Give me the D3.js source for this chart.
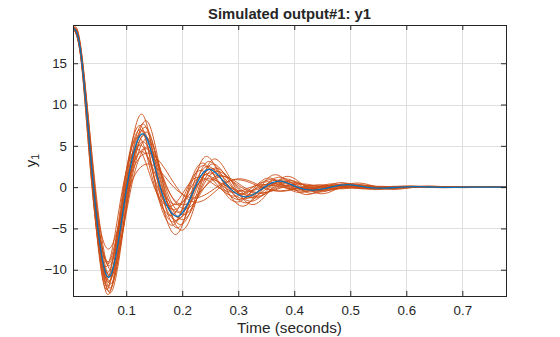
<!DOCTYPE html>
<html>
<head>
<meta charset="utf-8">
<script src="https://cdn.jsdelivr.net/npm/d3@7"></script>
<style>
  html, body { margin: 0; padding: 0; background: #ffffff; }
  svg { display: block; }
  text { font-family: "Liberation Sans", Arial, Helvetica, sans-serif; fill: #262626; }
</style>
</head>
<body>
<svg id="chart" width="560" height="337"></svg>
<script>
// Axis ranges and tick labels
const xDomain = [0.005, 0.778];
const yDomain = [-13.18, 19.63];
const xTicks = [0.1, 0.2, 0.3, 0.4, 0.5, 0.6, 0.7];
const yTicks = [-10, -5, 0, 5, 10, 15];

// Nominal simulated response y1: [time (s), value] at start, zero crossings and extrema
const nominalResponse = [
  [0.005, 19.25], [0.02, 15.7], [0.0416, 0], [0.0696, -10.9], [0.101, 0], [0.132, 6.4],
  [0.1607, 0], [0.1934, -3.5], [0.223, 0], [0.25, 2.14], [0.283, 0], [0.316, -1.16],
  [0.347, 0], [0.375, 0.72], [0.405, 0], [0.434, -0.36], [0.465, 0], [0.496, 0.3],
  [0.527, 0], [0.558, -0.12], [0.59, 0], [0.62, 0.05], [0.65, 0], [0.68, -0.02],
  [0.71, 0], [0.745, 0], [0.778, 0]
];

// Responses of the sampled (perturbed) models: [time (s), value]
const sampleRuns = [
  [[0.005,19.3],[0.02,15.5],[0.041,0],[0.068,-13.0],[0.099,0],[0.129,8.8],[0.158,0],[0.190,-5.7],[0.219,0],[0.245,3.7],[0.277,0],[0.310,-2.3],[0.340,0],[0.368,1.5],[0.397,0],[0.425,-0.9],[0.456,0],[0.486,0.55],[0.517,0],[0.547,-0.3],[0.578,0],[0.608,0.15],[0.637,0],[0.667,-0.07],[0.697,0],[0.737,0],[0.778,0]],
  [[0.005,19.2],[0.02,15.7],[0.042,0],[0.070,-12.6],[0.101,0],[0.132,7.6],[0.161,0],[0.193,-4.9],[0.223,0],[0.250,3.1],[0.283,0],[0.316,-1.9],[0.347,0],[0.375,1.2],[0.405,0],[0.434,-0.75],[0.465,0],[0.496,0.45],[0.527,0],[0.558,-0.25],[0.590,0],[0.620,0.12],[0.650,0],[0.68,-0.06],[0.71,0],[0.745,0],[0.778,0]],
  [[0.005,19.25],[0.02,16.0],[0.043,0],[0.072,-12.2],[0.104,0],[0.136,7.2],[0.165,0],[0.199,-4.5],[0.230,0],[0.257,2.8],[0.291,0],[0.325,-1.7],[0.357,0],[0.386,1.0],[0.417,0],[0.447,-0.6],[0.479,0],[0.511,0.35],[0.543,0],[0.575,-0.2],[0.608,0],[0.638,0.1],[0.669,0],[0.70,-0.05],[0.73,0],[0.755,0],[0.778,0]],
  [[0.005,19.3],[0.02,15.3],[0.040,0],[0.067,-12.0],[0.097,0],[0.127,6.9],[0.154,0],[0.186,-4.2],[0.214,0],[0.240,2.6],[0.272,0],[0.304,-1.5],[0.333,0],[0.360,0.9],[0.389,0],[0.417,-0.5],[0.447,0],[0.476,0.3],[0.506,0],[0.536,-0.15],[0.567,0],[0.595,0.08],[0.624,0],[0.653,-0.04],[0.683,0],[0.73,0],[0.778,0]],
  [[0.005,19.15],[0.02,16.2],[0.043,0],[0.073,-11.7],[0.106,0],[0.138,6.6],[0.168,0],[0.203,-3.9],[0.234,0],[0.262,2.3],[0.297,0],[0.332,-1.3],[0.364,0],[0.394,0.8],[0.425,0],[0.455,-0.45],[0.488,0],[0.521,0.25],[0.553,0],[0.586,-0.12],[0.619,0],[0.651,0.06],[0.682,0],[0.715,-0.03],[0.745,0],[0.778,0]],
  [[0.005,19.25],[0.02,15.6],[0.041,0],[0.069,-11.5],[0.100,0],[0.131,6.8],[0.159,0],[0.192,-4.0],[0.221,0],[0.248,2.5],[0.280,0],[0.313,-1.4],[0.344,0],[0.371,0.85],[0.401,0],[0.430,-0.5],[0.460,0],[0.491,0.3],[0.522,0],[0.552,-0.15],[0.584,0],[0.614,0.07],[0.644,0],[0.674,-0.035],[0.704,0],[0.74,0],[0.778,0]],
  [[0.005,19.3],[0.02,15.9],[0.042,0],[0.071,-11.3],[0.103,0],[0.135,6.2],[0.164,0],[0.197,-3.7],[0.227,0],[0.255,2.2],[0.289,0],[0.322,-1.3],[0.354,0],[0.382,0.75],[0.413,0],[0.443,-0.45],[0.474,0],[0.506,0.25],[0.537,0],[0.569,-0.12],[0.602,0],[0.632,0.06],[0.663,0],[0.693,-0.03],[0.723,0],[0.75,0],[0.778,0]],
  [[0.005,19.2],[0.02,15.1],[0.039,0],[0.066,-11.1],[0.095,0],[0.124,6.0],[0.151,0],[0.182,-3.4],[0.210,0],[0.235,2.0],[0.266,0],[0.297,-1.1],[0.326,0],[0.353,0.65],[0.381,0],[0.408,-0.35],[0.437,0],[0.467,0.2],[0.496,0],[0.525,-0.1],[0.555,0],[0.583,0.05],[0.611,0],[0.64,-0.025],[0.67,0],[0.72,0],[0.778,0]],
  [[0.005,19.25],[0.02,16.3],[0.044,0],[0.073,-10.8],[0.107,0],[0.140,5.8],[0.170,0],[0.205,-3.3],[0.236,0],[0.265,1.9],[0.300,0],[0.335,-1.1],[0.368,0],[0.397,0.6],[0.429,0],[0.460,-0.35],[0.493,0],[0.525,0.2],[0.558,0],[0.591,-0.1],[0.625,0],[0.657,0.05],[0.689,0],[0.72,-0.02],[0.75,0],[0.778,0]],
  [[0.005,19.3],[0.02,15.8],[0.042,0],[0.070,-10.6],[0.102,0],[0.133,5.4],[0.162,0],[0.195,-3.0],[0.225,0],[0.252,1.7],[0.286,0],[0.319,-0.95],[0.350,0],[0.379,0.55],[0.409,0],[0.438,-0.3],[0.470,0],[0.501,0.18],[0.532,0],[0.564,-0.08],[0.596,0],[0.626,0.04],[0.656,0],[0.686,-0.02],[0.716,0],[0.747,0],[0.778,0]],
  [[0.005,19.2],[0.02,15.4],[0.041,0],[0.068,-10.3],[0.098,0],[0.128,5.0],[0.156,0],[0.188,-2.7],[0.216,0],[0.243,1.5],[0.275,0],[0.307,-0.8],[0.337,0],[0.364,0.45],[0.393,0],[0.421,-0.25],[0.451,0],[0.481,0.14],[0.511,0],[0.541,-0.07],[0.572,0],[0.602,0.03],[0.631,0],[0.661,-0.015],[0.691,0],[0.735,0],[0.778,0]],
  [[0.005,19.2],[0.02,16.5],[0.045,0],[0.075,-10.0],[0.109,0],[0.142,4.8],[0.173,0],[0.208,-2.6],[0.240,0],[0.270,1.4],[0.305,0],[0.341,-0.75],[0.374,0],[0.405,0.4],[0.437,0],[0.468,-0.22],[0.502,0],[0.535,0.12],[0.569,0],[0.602,-0.06],[0.637,0],[0.669,0.03],[0.702,0],[0.74,0],[0.778,0]],
  [[0.005,19.3],[0.02,15.0],[0.039,0],[0.065,-9.6],[0.094,0],[0.123,4.5],[0.150,0],[0.180,-2.3],[0.208,0],[0.233,1.2],[0.264,0],[0.294,-0.6],[0.323,0],[0.349,0.32],[0.377,0],[0.404,-0.17],[0.433,0],[0.462,0.09],[0.490,0],[0.519,-0.05],[0.549,0],[0.577,0.02],[0.605,0],[0.64,0],[0.69,0],[0.735,0],[0.778,0]],
  [[0.005,19.25],[0.02,16.1],[0.043,0],[0.072,-12.8],[0.105,0],[0.137,8.0],[0.167,0],[0.201,-5.2],[0.232,0],[0.260,3.4],[0.294,0],[0.328,-2.1],[0.361,0],[0.390,1.3],[0.421,0],[0.451,-0.8],[0.483,0],[0.516,0.5],[0.548,0],[0.580,-0.28],[0.613,0],[0.645,0.14],[0.676,0],[0.707,-0.06],[0.738,0],[0.778,0]],
  [[0.005,19.2],[0.02,15.2],[0.040,0],[0.066,-12.4],[0.096,0],[0.126,7.4],[0.153,0],[0.184,-4.6],[0.212,0],[0.238,2.9],[0.269,0],[0.300,-1.8],[0.330,0],[0.357,1.1],[0.385,0],[0.413,-0.65],[0.442,0],[0.471,0.4],[0.501,0],[0.530,-0.22],[0.561,0],[0.589,0.11],[0.618,0],[0.647,-0.05],[0.676,0],[0.727,0],[0.778,0]],
  [[0.005,19.3],[0.02,15.7],[0.042,0],[0.070,-9.2],[0.101,0],[0.132,4.2],[0.161,0],[0.193,-2.1],[0.223,0],[0.250,1.0],[0.283,0],[0.316,-0.5],[0.347,0],[0.375,0.26],[0.405,0],[0.434,-0.14],[0.465,0],[0.496,0.07],[0.527,0],[0.558,-0.04],[0.590,0],[0.620,0.02],[0.650,0],[0.68,0],[0.73,0],[0.778,0]],
  [[0.005,19.2],[0.02,15.9],[0.043,0],[0.071,-7.4],[0.106,0],[0.146,2.7],[0.185,0],[0.225,-1.3],[0.262,0],[0.300,0.9],[0.340,0],[0.375,-0.45],[0.415,0],[0.450,0.25],[0.490,0],[0.525,-0.12],[0.560,0],[0.600,0.05],[0.640,0],[0.69,0],[0.735,0],[0.778,0]],
  [[0.005,19.3],[0.02,15.7],[0.042,0],[0.069,-9.0],[0.100,0],[0.138,4.6],[0.172,0],[0.205,-2.1],[0.240,0],[0.275,1.3],[0.310,0],[0.345,-0.7],[0.380,0],[0.415,0.4],[0.450,0],[0.485,-0.2],[0.520,0],[0.555,0.1],[0.590,0],[0.64,0],[0.69,0],[0.735,0],[0.778,0]],
  [[0.005,19.25],[0.02,15.8],[0.042,0],[0.071,-9.5],[0.102,0],[0.145,4.0],[0.190,0],[0.230,-1.8],[0.268,0],[0.305,1.0],[0.345,0],[0.380,-0.5],[0.415,0],[0.450,0.25],[0.490,0],[0.525,-0.1],[0.560,0],[0.61,0],[0.66,0],[0.72,0],[0.778,0]]
];

// Layout
const plot = { left: 73, right: 506, top: 25, bottom: 296 };

const svg = d3.select("#chart");
const x = d3.scaleLinear().domain(xDomain).range([plot.left, plot.right]);
const y = d3.scaleLinear().domain(yDomain).range([plot.bottom, plot.top]);
const crisp = v => Math.round(v) + 0.5;

// Clip region for the response curves
svg.append("defs").append("clipPath").attr("id", "plotArea")
  .append("rect")
  .attr("x", plot.left).attr("y", plot.top)
  .attr("width", plot.right - plot.left).attr("height", plot.bottom - plot.top);

// Grid
const grid = svg.append("g").attr("stroke", "#dfdfdf").attr("stroke-width", 1);
grid.selectAll("line.gx").data(xTicks).join("line")
  .attr("x1", d => crisp(x(d))).attr("x2", d => crisp(x(d)))
  .attr("y1", plot.top).attr("y2", plot.bottom);
grid.selectAll("line.gy").data(yTicks).join("line")
  .attr("x1", plot.left).attr("x2", plot.right)
  .attr("y1", d => crisp(y(d))).attr("y2", d => crisp(y(d)));

// Curves
const line = d3.line()
  .x(d => x(d[0]))
  .y(d => y(d[1]))
  .curve(d3.curveNatural);

const curves = svg.append("g").attr("clip-path", "url(#plotArea)");
curves.selectAll("path.run").data(sampleRuns).join("path")
  .attr("class", "run")
  .attr("d", line)
  .attr("fill", "none")
  .attr("stroke", "#CC4E16")
  .attr("stroke-width", 0.9);

curves.append("path")
  .datum(nominalResponse)
  .attr("d", line)
  .attr("fill", "none")
  .attr("stroke", "#0072BD")
  .attr("stroke-width", 1.3);

// Axes box and inward ticks
const axisColor = "#262626";
const xBottom = d3.axisBottom(x).tickValues(xTicks).tickSizeInner(-5).tickSizeOuter(0).tickFormat(d3.format(".1f"));
const xTop = d3.axisTop(x).tickValues(xTicks).tickSizeInner(-5).tickSizeOuter(0).tickFormat("");
const yLeft = d3.axisLeft(y).tickValues(yTicks).tickSizeInner(-5).tickSizeOuter(0).tickFormat(d3.format("d"));
const yRight = d3.axisRight(y).tickValues(yTicks).tickSizeInner(-5).tickSizeOuter(0).tickFormat("");

function styleAxis(g) {
  g.select(".domain").remove();
  g.selectAll(".tick line").attr("stroke", axisColor);
  g.selectAll(".tick text")
    .attr("fill", axisColor)
    .style("font-size", "13.3px")
    .style("font-family", "'Liberation Sans', Arial, Helvetica, sans-serif");
}

svg.append("g").attr("transform", `translate(0,${plot.bottom})`).call(xBottom).call(styleAxis)
  .selectAll(".tick text").attr("y", 10).attr("dy", "0.71em");
svg.append("g").attr("transform", `translate(0,${plot.top})`).call(xTop).call(styleAxis);
svg.append("g").attr("transform", `translate(${plot.left},0)`).call(yLeft).call(styleAxis)
  .selectAll(".tick text").attr("x", -6);
svg.append("g").attr("transform", `translate(${plot.right},0)`).call(yRight).call(styleAxis);

svg.append("rect")
  .attr("x", plot.left + 0.5).attr("y", plot.top + 0.5)
  .attr("width", plot.right - plot.left).attr("height", plot.bottom - plot.top)
  .attr("fill", "none").attr("stroke", axisColor).attr("stroke-width", 1);

// Title and axis labels
const cx = (plot.left + plot.right) / 2;
svg.append("text")
  .attr("x", cx).attr("y", 19)
  .attr("text-anchor", "middle")
  .style("font-size", "14.8px").style("font-weight", "bold")
  .text("Simulated output#1: y1");

svg.append("text")
  .attr("x", cx).attr("y", 333)
  .attr("text-anchor", "middle")
  .style("font-size", "15.3px")
  .text("Time (seconds)");

const yLab = svg.append("text")
  .attr("transform", `translate(36,${(plot.top + plot.bottom) / 2}) rotate(-90)`)
  .attr("text-anchor", "middle")
  .style("font-size", "15px");
yLab.append("tspan").text("y");
yLab.append("tspan").attr("dy", 3).style("font-size", "10.5px").text("1");
</script>
</body>
</html>
